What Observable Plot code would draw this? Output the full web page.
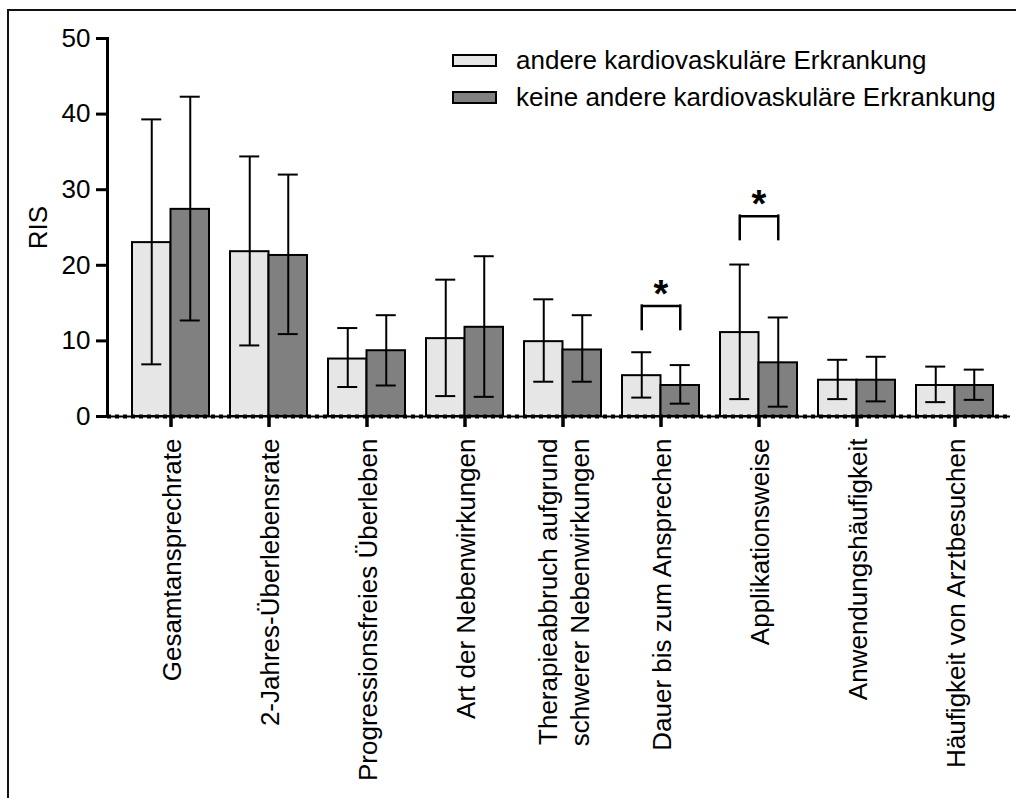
<!DOCTYPE html>
<html>
<head>
<meta charset="utf-8">
<script src="https://cdn.jsdelivr.net/npm/d3@7"></script>
<script src="https://cdn.jsdelivr.net/npm/@observablehq/plot@0.6"></script>
<style>
  html, body { margin: 0; padding: 0; background: #fff; }
  body { font-family: "Liberation Sans", Arial, Helvetica, sans-serif; color: #000; }
  #wrap { position: relative; width: 1016px; height: 798px; overflow: hidden; }
  #chart { position: absolute; left: 0; top: 0; }
  #frame { position: absolute; left: 7px; top: 9px; width: 1200px; height: 1000px;
           border-top: 2px solid #111; border-left: 2px solid #111; pointer-events: none; }
  #legend { position: absolute; left: 452px; top: 41.5px; font-size: 26px; line-height: 1; }
  #legend .row { display: flex; align-items: center; height: 37px; white-space: nowrap; }
  #legend .sw { display: inline-block; width: 45px; height: 13px; box-sizing: border-box;
                border: 2px solid #000; margin-right: 19px; flex: none; }
</style>
</head>
<body>
<div id="wrap">
  <div id="chart"></div>
  <div id="legend"></div>
  <div id="frame"></div>
</div>
<script>
// ---- data ----
const categories = [
  "Gesamtansprechrate",
  "2-Jahres-Überlebensrate",
  "Progressionsfreies Überleben",
  "Art der Nebenwirkungen",
  "Therapieabbruch aufgrund\nschwerer Nebenwirkungen",
  "Dauer bis zum Ansprechen",
  "Applikationsweise",
  "Anwendungshäufigkeit",
  "Häufigkeit von Arztbesuchen"
];
const groups = ["andere kardiovaskuläre Erkrankung", "keine andere kardiovaskuläre Erkrankung"];
const groupColors = ["#e6e6e6", "#808080"];

const meanOther = [23.0, 21.8, 7.6, 10.3, 9.9, 5.4, 11.1, 4.8, 4.1];
const lowOther  = [6.9, 9.4, 3.9, 2.7, 4.6, 2.5, 2.3, 2.3, 1.9];
const highOther = [39.3, 34.4, 11.7, 18.1, 15.5, 8.5, 20.1, 7.5, 6.6];

const meanNone = [27.4, 21.3, 8.7, 11.8, 8.8, 4.1, 7.1, 4.8, 4.1];
const lowNone  = [12.7, 10.9, 4.1, 2.6, 4.6, 1.7, 1.3, 2.0, 2.2];
const highNone = [42.3, 32.0, 13.4, 21.2, 13.4, 6.8, 13.1, 7.9, 6.2];

const sigCategories = ["Dauer bis zum Ansprechen", "Applikationsweise"];
const bracketTop  = [14.6, 26.5];
const bracketFoot = [11.5, 23.4];
const starTop     = [18.1, 30.0];
const sigLabels   = ["*", "*"];

const yTicks = [0, 10, 20, 30, 40, 50];

// ---- tables ----
const other = categories.map((c, i) => ({cat: c, group: groups[0], mean: meanOther[i], lo: lowOther[i], hi: highOther[i]}));
const none  = categories.map((c, i) => ({cat: c, group: groups[1], mean: meanNone[i], lo: lowNone[i], hi: highNone[i]}));
const sig = sigCategories.map((c, i) => ({cat: c, top: bracketTop[i], foot: bracketFoot[i], star: starTop[i], label: sigLabels[i]}));

function build(b) {
  const half = b / 2, q = b / 4, cap = 10;
  const line = {stroke: "#000", strokeWidth: 2};
  return Plot.plot({
    width: 1016,
    height: 798,
    marginLeft: 107,
    marginRight: 6,
    marginTop: 38,
    marginBottom: 382,
    style: {fontFamily: '"Liberation Sans", Arial, Helvetica, sans-serif', fontSize: "26px", color: "#000", background: "transparent", overflow: "visible"},
    x: {domain: categories, paddingInner: 0.218, paddingOuter: 0.19, align: 0.58},
    y: {domain: [0, 50]},
    color: {domain: groups, range: groupColors},
    marks: [
      Plot.barY(other, {x: "cat", y: "mean", fill: "group", stroke: "#000", strokeWidth: 2, insetRight: half}),
      Plot.barY(none,  {x: "cat", y: "mean", fill: "group", stroke: "#000", strokeWidth: 2, insetLeft: half}),
      Plot.ruleX(other, {x: "cat", y1: "lo", y2: "hi", dx: -q, ...line}),
      Plot.ruleX(none,  {x: "cat", y1: "lo", y2: "hi", dx: q, ...line}),
      Plot.tickY(other, {x: "cat", y: "hi", insetLeft: q - cap, insetRight: b - q - cap, ...line}),
      Plot.tickY(other, {x: "cat", y: "lo", insetLeft: q - cap, insetRight: b - q - cap, ...line}),
      Plot.tickY(none,  {x: "cat", y: "hi", insetLeft: b - q - cap, insetRight: q - cap, ...line}),
      Plot.tickY(none,  {x: "cat", y: "lo", insetLeft: b - q - cap, insetRight: q - cap, ...line}),
      Plot.ruleX(sig, {x: "cat", y1: "foot", y2: "top", dx: -q, stroke: "#000", strokeWidth: 2.5, strokeLinecap: "square"}),
      Plot.ruleX(sig, {x: "cat", y1: "foot", y2: "top", dx: q, stroke: "#000", strokeWidth: 2.5, strokeLinecap: "square"}),
      Plot.tickY(sig, {x: "cat", y: "top", insetLeft: q, insetRight: q, stroke: "#000", strokeWidth: 2.5}),
      Plot.text(sig, {x: "cat", y: "star", text: "label", fontSize: 38, fontWeight: "bold", lineAnchor: "top", fill: "#000"}),
      Plot.ruleY([0], {stroke: "#000", strokeWidth: 2}),
      Plot.ruleY([0], {stroke: "#000", strokeWidth: 4, strokeDasharray: "4,4"}),
      Plot.frame({anchor: "left", stroke: "#000", strokeWidth: 3}),
      Plot.axisY({ticks: yTicks, tickSize: 11, tickPadding: 6, strokeWidth: 3, fontSize: 26,
                  label: "RIS", labelAnchor: "center", labelArrow: "none", labelOffset: 79}),
      Plot.axisX({tickSize: 11, tickPadding: 11, strokeWidth: 3.5, tickRotate: -90, fontSize: 26,
                  label: null, lineHeight: 1.2})
    ]
  });
}

let chart = build(77);
const bw = chart.scale("x").bandwidth;
if (Math.abs(bw - 77) > 0.01) chart = build(bw);
document.getElementById("chart").appendChild(chart);

// legend
const legend = document.getElementById("legend");
groups.forEach((g, i) => {
  const row = document.createElement("div");
  row.className = "row";
  const sw = document.createElement("span");
  sw.className = "sw";
  sw.style.background = groupColors[i];
  const t = document.createElement("span");
  t.textContent = g;
  row.appendChild(sw);
  row.appendChild(t);
  legend.appendChild(row);
});
</script>
</body>
</html>
